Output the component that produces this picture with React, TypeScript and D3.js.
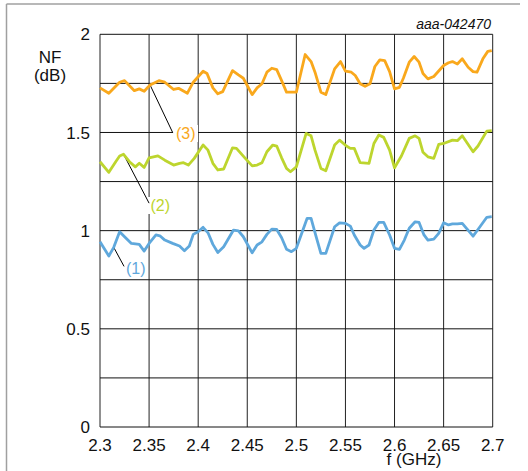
import React from "react";
import * as d3 from "d3";

// Noise figure vs frequency, three operating conditions
const freq3 = [2.300, 2.309, 2.320, 2.325, 2.335, 2.340, 2.345, 2.351, 2.360, 2.366, 2.375, 2.380, 2.389, 2.395, 2.405, 2.409, 2.415, 2.420, 2.425, 2.435, 2.441, 2.446, 2.455, 2.460, 2.465, 2.470, 2.475, 2.480, 2.485, 2.490, 2.500, 2.509, 2.515, 2.519, 2.525, 2.530, 2.539, 2.545, 2.550, 2.556, 2.560, 2.565, 2.570, 2.575, 2.580, 2.585, 2.590, 2.595, 2.600, 2.605, 2.609, 2.615, 2.620, 2.625, 2.629, 2.634, 2.640, 2.650, 2.655, 2.659, 2.664, 2.669, 2.675, 2.680, 2.684, 2.690, 2.695, 2.699];
const nf3 = [1.727, 1.700, 1.756, 1.764, 1.713, 1.722, 1.710, 1.742, 1.764, 1.756, 1.719, 1.725, 1.700, 1.756, 1.812, 1.800, 1.727, 1.697, 1.708, 1.815, 1.793, 1.776, 1.693, 1.727, 1.748, 1.807, 1.827, 1.820, 1.764, 1.705, 1.705, 1.897, 1.861, 1.807, 1.705, 1.693, 1.824, 1.861, 1.812, 1.807, 1.790, 1.748, 1.735, 1.748, 1.836, 1.870, 1.866, 1.810, 1.722, 1.730, 1.776, 1.858, 1.887, 1.858, 1.800, 1.773, 1.785, 1.841, 1.855, 1.861, 1.849, 1.875, 1.832, 1.810, 1.807, 1.875, 1.913, 1.917];

const freq2 = [2.300, 2.309, 2.316, 2.320, 2.324, 2.330, 2.336, 2.340, 2.345, 2.350, 2.359, 2.366, 2.375, 2.381, 2.385, 2.390, 2.396, 2.405, 2.410, 2.415, 2.420, 2.426, 2.435, 2.439, 2.448, 2.455, 2.460, 2.465, 2.470, 2.476, 2.480, 2.485, 2.490, 2.494, 2.500, 2.510, 2.515, 2.519, 2.525, 2.530, 2.539, 2.544, 2.551, 2.555, 2.559, 2.565, 2.574, 2.579, 2.584, 2.589, 2.595, 2.600, 2.607, 2.615, 2.621, 2.625, 2.629, 2.634, 2.640, 2.645, 2.650, 2.659, 2.664, 2.669, 2.680, 2.685, 2.694, 2.699];
const nf2 = [1.351, 1.297, 1.351, 1.380, 1.389, 1.351, 1.325, 1.343, 1.322, 1.371, 1.381, 1.359, 1.334, 1.343, 1.346, 1.334, 1.368, 1.436, 1.410, 1.343, 1.309, 1.314, 1.422, 1.419, 1.368, 1.330, 1.334, 1.346, 1.402, 1.436, 1.431, 1.371, 1.317, 1.300, 1.325, 1.495, 1.483, 1.410, 1.317, 1.305, 1.436, 1.461, 1.431, 1.419, 1.419, 1.346, 1.343, 1.444, 1.487, 1.475, 1.410, 1.320, 1.380, 1.470, 1.483, 1.470, 1.399, 1.376, 1.368, 1.439, 1.444, 1.461, 1.458, 1.483, 1.402, 1.431, 1.507, 1.509];

const freq1 = [2.300, 2.309, 2.314, 2.320, 2.325, 2.332, 2.340, 2.345, 2.350, 2.357, 2.361, 2.366, 2.374, 2.381, 2.386, 2.391, 2.395, 2.400, 2.405, 2.410, 2.415, 2.420, 2.426, 2.436, 2.441, 2.446, 2.455, 2.460, 2.465, 2.470, 2.475, 2.480, 2.485, 2.490, 2.495, 2.500, 2.511, 2.515, 2.520, 2.525, 2.530, 2.539, 2.544, 2.550, 2.555, 2.559, 2.565, 2.569, 2.574, 2.579, 2.584, 2.589, 2.595, 2.600, 2.605, 2.610, 2.615, 2.621, 2.625, 2.630, 2.634, 2.640, 2.645, 2.650, 2.655, 2.659, 2.664, 2.669, 2.680, 2.685, 2.694, 2.699];
const nf1 = [0.943, 0.871, 0.915, 0.994, 0.969, 0.935, 0.930, 0.896, 0.935, 0.978, 0.974, 0.952, 0.935, 0.922, 0.898, 0.922, 0.981, 0.994, 1.017, 0.989, 0.930, 0.889, 0.918, 1.003, 0.999, 0.969, 0.887, 0.927, 0.943, 0.981, 1.008, 1.006, 0.964, 0.905, 0.893, 0.910, 1.063, 1.063, 0.972, 0.884, 0.884, 1.020, 1.040, 1.037, 1.023, 0.978, 0.927, 0.910, 0.927, 1.003, 1.042, 1.042, 0.978, 0.910, 0.905, 0.952, 1.012, 1.045, 1.042, 0.978, 0.952, 0.957, 0.986, 1.040, 1.029, 1.034, 1.034, 1.037, 0.972, 1.006, 1.068, 1.071];

const xTicks = [2.3, 2.35, 2.4, 2.45, 2.5, 2.55, 2.6, 2.65, 2.7];
const xTickLabels = ["2.3", "2.35", "2.4", "2.45", "2.5", "2.55", "2.6", "2.65", "2.7"];
const yGrid = [0, 0.25, 0.5, 0.75, 1, 1.25, 1.5, 1.75, 2];
const yTicks = [0, 0.5, 1, 1.5, 2];
const yTickLabels = ["0", "0.5", "1", "1.5", "2"];

const seriesNames = ["(1)", "(2)", "(3)"];
const seriesColors = ["#5fa8dc", "#bdd52e", "#f9a81c"];

const FONT = "'Liberation Sans', Arial, Helvetica, sans-serif";

export default function App() {
  const x = d3.scaleLinear().domain([2.3, 2.7]).range([100, 492.7]);
  const y = d3.scaleLinear().domain([0, 2]).range([427, 34.3]);

  const series = [
    { f: freq1, v: nf1 },
    { f: freq2, v: nf2 },
    { f: freq3, v: nf3 },
  ];

  const line = d3
    .line<[number, number]>()
    .x((d) => x(d[0]))
    .y((d) => y(d[1]));

  // label placements: anchor point on curve (data units) and text origin
  const callouts = [
    { at: [2.314, 0.915], end: [2.3245, 0.818], text: [126, 274] },
    { at: [2.324, 1.389], end: [2.35, 1.14], text: [150.5, 211] },
    { at: [2.351, 1.742], end: [2.374, 1.50], text: [176, 139] },
  ];

  return (
    <svg
      width={528}
      height={471}
      style={{ position: "absolute", left: 0, top: 0, background: "#fff" }}
      fontFamily={FONT}
    >
      {/* outer frame edges */}
      <line x1={6.5} y1={4} x2={520} y2={4} stroke="#a0a0a0" strokeWidth={1.5} />
      <line x1={6.5} y1={4} x2={6.5} y2={471} stroke="#a0a0a0" strokeWidth={1.5} />

      {/* grid */}
      {xTicks.map((t) => (
        <line key={"gx" + t} x1={x(t)} x2={x(t)} y1={y(0)} y2={y(2)} stroke="#222" strokeWidth={1} />
      ))}
      {yGrid.map((t) => (
        <line key={"gy" + t} x1={x(2.3)} x2={x(2.7)} y1={y(t)} y2={y(t)} stroke="#111" strokeWidth={1} />
      ))}

      {/* callout leader lines and label backgrounds */}
      {callouts.map((c, i) => (
        <g key={"c" + i}>
          <rect x={c.text[0] - 3} y={c.text[1] - 14} width={25} height={17} fill="#fff" />
          <line x1={x(c.at[0])} y1={y(c.at[1])} x2={x(c.end[0])} y2={y(c.end[1])} stroke="#000" strokeWidth={1} />
        </g>
      ))}

      {/* curves */}
      {series.map((s, i) => (
        <path
          key={"s" + i}
          d={line(s.f.map((f, j) => [f, s.v[j]] as [number, number])) || ""}
          fill="none"
          stroke={seriesColors[i]}
          strokeWidth={2.8}
          strokeLinejoin="round"
        />
      ))}

      {callouts.map((c, i) => (
        <text key={"t" + i} x={c.text[0]} y={c.text[1]} fontSize={16} fill={seriesColors[i]}>
          {seriesNames[i]}
        </text>
      ))}

      {/* axis tick labels */}
      {xTicks.map((t, i) => (
        <text key={"xl" + t} x={x(t)} y={451} fontSize={17} textAnchor="middle" fill="#111">
          {xTickLabels[i]}
        </text>
      ))}
      {yTicks.map((t, i) => (
        <text key={"yl" + t} x={90} y={y(t)} dy="0.36em" fontSize={17} textAnchor="end" fill="#111">
          {yTickLabels[i]}
        </text>
      ))}

      {/* axis titles */}
      <text x={50} y={63} fontSize={17} textAnchor="middle" fill="#111">NF</text>
      <text x={50} y={81} fontSize={17} textAnchor="middle" fill="#111">(dB)</text>
      <text x={414} y={465} fontSize={17} textAnchor="middle" fill="#111">f (GHz)</text>

      <text x={491} y={29} fontSize={14} fontStyle="italic" textAnchor="end" fill="#111">
        aaa-042470
      </text>
    </svg>
  );
}
